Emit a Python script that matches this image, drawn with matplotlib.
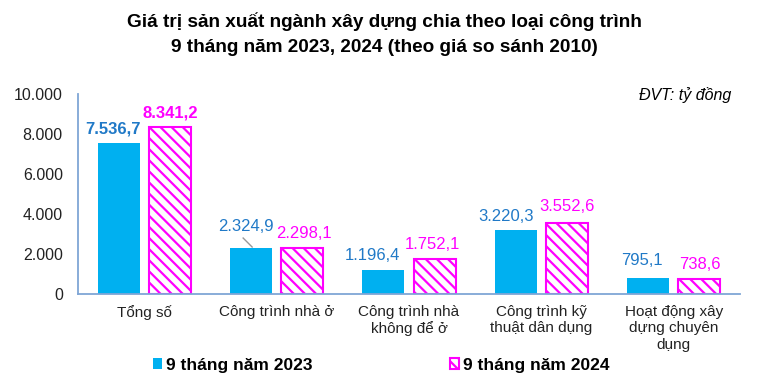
import numpy as np
import matplotlib.pyplot as plt

plt.rcParams['font.family'] = ['Liberation Sans', 'DejaVu Sans']
plt.rcParams['hatch.linewidth'] = 1.6

categories = ['Tổng số', 'Công trình nhà ở', 'Công trình nhà\nkhông để ở',
              'Công trình kỹ\nthuật dân dụng', 'Hoạt động xây\ndựng chuyên\ndụng']
v2023 = [7536.7, 2324.9, 1196.4, 3220.3, 795.1]
v2024 = [8341.2, 2298.1, 1752.1, 3552.6, 738.6]
lab2023 = ['7.536,7', '2.324,9', '1.196,4', '3.220,3', '795,1']
lab2024 = ['8.341,2', '2.298,1', '1.752,1', '3.552,6', '738,6']

blue = '#00B0F0'
pink = '#FF00FF'
blue_txt = '#2079C7'
axis_col = '#7FA6D6'

fig = plt.figure(figsize=(7.68, 3.92), dpi=100)
ax = fig.add_axes([0.1016, 0.25, 0.862, 0.51])

x = np.arange(len(categories))
w = 0.317
off = 0.193
ax.bar(x - off, v2023, w, color=blue, label='9 tháng năm 2023')
ax.bar(x + off, v2024, w, color='white', edgecolor=pink, hatch='\\\\\\',
       linewidth=1.5, label='9 tháng năm 2024')

# data labels (dx, dy in data units relative to bar top)
d23 = [(-0.042, 350), (-0.042, 700), (-0.08, 350), (-0.075, 300), (-0.05, 500)]
d24 = [(0.0, 350), (0.015, 350), (-0.015, 350), (0.0, 450), (0.0, 350)]
for i in range(len(x)):
    wt = 'bold' if i == 0 else 'normal'
    ax.text(x[i] - off + d23[i][0], v2023[i] + d23[i][1], lab2023[i], color=blue_txt,
            fontsize=12, ha='center', va='bottom', fontweight=wt)
    ax.text(x[i] + off + d24[i][0], v2024[i] + d24[i][1], lab2024[i], color=pink,
            fontsize=12, ha='center', va='bottom', fontweight=wt)
# leader line for the second group's 2023 label
ax.plot([x[1] - off - 0.06, x[1] - off + 0.008], [v2023[1] + 475, v2023[1] + 25],
        color='#999999', lw=1)

ax.set_xlim(-0.5, 4.5)
ax.set_ylim(0, 10000)
ax.set_yticks(np.arange(0, 10001, 2000))
ax.set_yticklabels(['0', '2.000', '4.000', '6.000', '8.000', '10.000'], fontsize=11.5,
                   color='#222222')
ax.set_xticks(x)
ax.set_xticklabels(categories, fontsize=11, linespacing=1.2, color='#222222')
ax.tick_params(axis='y', length=0, pad=11)
ax.tick_params(axis='x', length=0, pad=8)
for s in ['top', 'right']:
    ax.spines[s].set_visible(False)
for s in ['bottom', 'left']:
    ax.spines[s].set_color(axis_col)
    ax.spines[s].set_linewidth(1.3)

fig.text(0.5, 0.945, 'Giá trị sản xuất ngành xây dựng chia theo loại công trình',
         ha='center', va='center', fontsize=13.7, fontweight='bold')
fig.text(0.5, 0.878, '9 tháng năm 2023, 2024 (theo giá so sánh 2010)',
         ha='center', va='center', fontsize=13.7, fontweight='bold')
fig.text(0.952, 0.757, 'ĐVT: tỷ đồng', ha='right', va='center', fontsize=11.5, style='italic')

leg = fig.legend(loc='center', bbox_to_anchor=(0.496, 0.068), ncol=2, frameon=False,
                 prop={'size': 12.5, 'weight': 'bold'}, handlelength=0.55, handleheight=0.55,
                 handletextpad=0.2, columnspacing=7.9)

fig.savefig('out.png', dpi=100)
